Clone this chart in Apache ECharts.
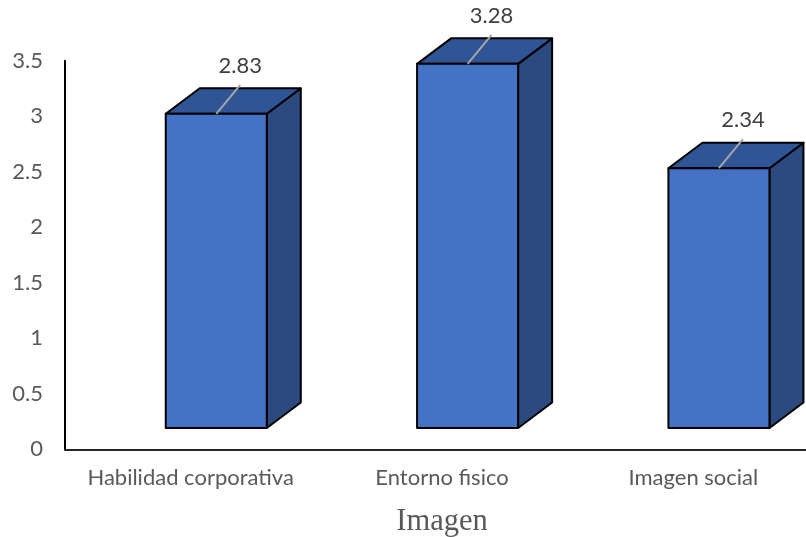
<!DOCTYPE html>
<html>
<head>
<meta charset="utf-8">
<script src="https://cdn.jsdelivr.net/npm/echarts@6/dist/echarts.min.js"></script>
<style>html,body{margin:0;padding:0;background:#fff;}#c{width:806px;height:537px;}</style>
</head>
<body>
<div id="c"></div>
<script>
var categories = ['Habilidad corporativa', 'Entorno fisico', 'Imagen social'];
var values = [2.83, 3.28, 2.34];
var yTicks = { min: 0, max: 3.5, interval: 0.5 };
var axisTitle = 'Imagen';

var chart = echarts.init(document.getElementById('c'), null, { renderer: 'canvas' });

var FRONT = '#4472C4', TOP = '#2F5597', SIDE = '#2A4A80';
var DX = 34, DY = -25.5;       // depth of the 3D box
var SHIFT_X = 25.6, SHIFT_Y = -21.3; // front face offset from the axis plane

function renderItem(params, api) {
  var base = api.coord([api.value(0), 0]);
  var topP = api.coord([api.value(0), api.value(1)]);
  var bw = api.size([1, 0])[0] * 0.402;
  var cx = base[0] + SHIFT_X;
  var yB = base[1] + SHIFT_Y;
  var yT = topP[1] + SHIFT_Y;
  var L = cx - bw / 2, R = cx + bw / 2;
  var border = { stroke: '#000', lineWidth: 2, lineJoin: 'round' };
  return {
    type: 'group',
    children: [
      { type: 'polygon', shape: { points: [[R, yT], [R + DX, yT + DY], [R + DX, yB + DY], [R, yB]] },
        style: Object.assign({ fill: SIDE }, border) },
      { type: 'polygon', shape: { points: [[L, yT], [R, yT], [R + DX, yT + DY], [L + DX, yT + DY]] },
        style: Object.assign({ fill: TOP }, border) },
      { type: 'rect', shape: { x: L, y: yT, width: bw, height: yB - yT },
        style: Object.assign({ fill: FRONT }, border) },
      { type: 'line', shape: { x1: cx, y1: yT, x2: cx + 24, y2: yT - 29 },
        style: { stroke: '#A6A6A6', lineWidth: 2 } },
      { type: 'text', style: { x: cx + 24, y: yT - 48, text: values[params.dataIndex].toFixed(2),
        fill: '#404040', font: '22px Lato', textAlign: 'center', textVerticalAlign: 'middle' } }
    ]
  };
}

chart.setOption({
  animation: false,
  backgroundColor: '#fff',
  grid: { left: 65, right: -13, top: 60.7, bottom: 87.7, containLabel: false, outerBoundsMode: 'none' },
  xAxis: {
    type: 'category',
    data: categories,
    axisLine: { show: true, lineStyle: { color: '#262626', width: 2 } },
    axisTick: { show: false },
    axisLabel: { color: '#595959', fontSize: 22, fontFamily: 'Lato', margin: 18, interval: 0 },
    name: axisTitle,
    nameLocation: 'middle',
    nameGap: 57,
    nameTextStyle: { color: '#595959', fontSize: 30.5, fontFamily: 'Liberation Serif' }
  },
  yAxis: {
    type: 'value',
    min: yTicks.min, max: yTicks.max, interval: yTicks.interval,
    axisLine: { show: true, lineStyle: { color: '#000', width: 2 } },
    axisTick: { show: false },
    splitLine: { show: false },
    axisLabel: { color: '#595959', fontSize: 22, fontFamily: 'Lato', margin: 22 }
  },
  series: [{
    type: 'custom',
    clip: false,
    renderItem: renderItem,
    data: values.map(function (v, i) { return [i, v]; }),
    encode: { x: 0, y: 1 }
  }]
});
</script>
</body>
</html>
